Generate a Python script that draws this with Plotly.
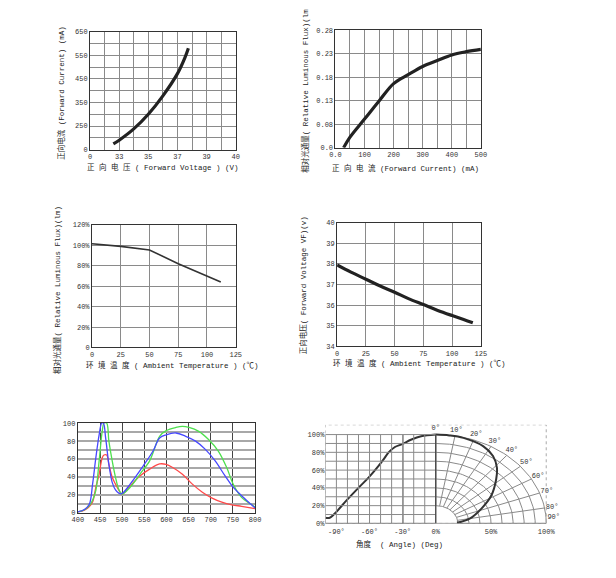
import numpy as np
import plotly.graph_objects as go

W, H = 616, 578
FONT = "Liberation Mono, Noto Sans CJK SC, monospace"
TICKC = "#333333"

# ---------------- Panel 1: forward voltage vs forward current ----------------
p1_voltage = [32.6, 33.0, 34.0, 35.0, 36.0, 37.0, 37.5, 37.75]
p1_current = [174, 190, 238, 300, 378, 472, 538, 580]
p1_xtickvals = list(range(31, 42))
p1_xticktext = ["0", "", "33", "", "35", "", "37", "", "39", "", "40"]
p1_ytickvals = list(range(150, 651, 50))
p1_yticktext = ["0", "", "250", "", "350", "", "450", "", "550", "", "650"]

# ---------------- Panel 2: forward current vs relative flux ----------------
p2_current = [28, 50, 100, 150, 200, 250, 300, 350, 400, 450, 500]
p2_flux = [0.03, 0.0525, 0.091, 0.1295, 0.1665, 0.1855, 0.203, 0.2155, 0.2275, 0.2345, 0.2395]
p2_xtickvals = list(range(0, 501, 50))
p2_xticktext = ["0.0", "", "100", "", "200", "", "300", "", "400", "", "500"]
p2_ytickvals = [0.03, 0.08, 0.13, 0.18, 0.23, 0.28]
p2_yticktext = ["0.0", "0.08", "0.13", "0.18", "0.23", "0.28"]

# ---------------- Panel 3: ambient temperature vs relative flux ----------------
p3_temp = [0, 25, 50, 75, 112]
p3_flux = [101.5, 99, 95.5, 82, 64]
p3_xtickvals = [0, 25, 50, 75, 100, 125]
p3_ytickvals = [0, 20, 40, 60, 80, 100, 120]
p3_yticktext = ["0", "20%", "40%", "60%", "80%", "100%", "120%"]

# ---------------- Panel 4: ambient temperature vs forward voltage ----------------
p4_temp = [0, 12, 25, 37, 50, 62, 75, 87, 100, 110, 118]
p4_vf = [37.95, 37.6, 37.26, 36.94, 36.63, 36.32, 36.03, 35.76, 35.5, 35.31, 35.15]
p4_xtickvals = [0, 25, 50, 75, 100, 125]
p4_ytickvals = [34, 35, 36, 37, 38, 39, 40]

# ---------------- Panel 5: spectrum ----------------
p5_blue_wl = [400, 414.8, 425.8, 433.2, 440.6, 448, 453.9, 457.6, 462.7, 470, 477.5, 484.9, 492.3,
              497.4, 503.3, 518, 547.6, 569.7, 584.5, 599.3, 621.4, 643.5, 665.7, 687.8, 710,
              732, 750.5, 769, 791, 800]
p5_blue = [1, 3.7, 9.5, 32, 61.5, 87, 100, 100, 83.5, 54, 34, 25.6, 22,
           21.2, 23, 32, 52.4, 68.9, 83.5, 87, 89, 85.3, 79.9, 70.7, 57.9,
           41.4, 28.6, 19.4, 9.5, 5.5]
p5_green_wl = [400, 414.8, 425.8, 433.2, 440.6, 448, 455, 459, 465, 470, 477.5, 485, 492,
               499.6, 518, 540, 562, 569.7, 584.5, 599.3, 621.4, 636, 650.9, 673, 695,
               717, 736, 750.5, 769, 791, 800]
p5_green = [1, 3.5, 8, 14, 25, 58, 91, 100, 100, 80, 58, 39.6, 26.7,
            21, 28.6, 43, 58, 67, 85.3, 91.6, 95.2, 96.3, 95.2, 90.8, 81.7,
            68.9, 50.5, 32.2, 17.6, 9.5, 6.6]
p5_red_wl = [400, 414.8, 425.8, 433.2, 440.6, 448, 455, 459, 465, 470, 477.5, 485, 492,
             499.6, 518, 540, 562, 584.5, 599.3, 614, 636, 658.5, 681, 703, 725,
             747.6, 769.7, 800]
p5_red = [1, 3, 7, 12, 28.6, 43, 61.5, 64.5, 64.5, 54, 39.6, 32, 25.6,
          21, 30, 41, 48.7, 54.5, 54, 50.5, 43, 32, 23, 16.5, 12,
          9, 7.3, 4.8]
p5_xtickvals = list(range(400, 801, 50))
p5_ytickvals = list(range(0, 101, 10))
p5_yticktext = ["0", "", "20", "", "40", "", "60", "", "80", "", "100"]

# ---------------- Panel 6: radiation pattern ----------------
p6_left_angle = [-100, -96, -93, -90, -80, -69.5, -60.7, -51.8, -47.3, -42.9, -37, -31, -22, -13.3, 0]
p6_left_int = [6.3, 6.3, 9.3, 13, 27, 40.7, 51.9, 64.8, 72, 79.6, 86, 89, 94.4, 98, 100]
p6_polar_angle = [0, 7, 14.6, 26.2, 34.3, 41.3, 47.6, 58, 68, 79.8, 88]
p6_polar_r = [100, 99.8, 99.5, 97, 91.9, 83.8, 74.1, 59.3, 44.6, 31.6, 19.2]
p6_rings = list(range(20, 101, 10))
p6_spokes = list(range(0, 91, 10))
p6_angle_labels = ["0°", "10°", "20°", "30°", "40°", "50°", "60°", "70°", "80°", "90°"]
p6_xtickvals = [-90, -60, -30, 0, 50, 100]
p6_xticktext = ["-90°", "-60°", "-30°", "0%", "50%", "100%"]
p6_ytickvals = [0, 20, 40, 60, 80, 100]
p6_yticktext = ["0%", "20%", "40%", "60%", "80%", "100%"]


def dom_x(a, b):
    return [a / W, b / W]


def dom_y(top, bottom):
    return [1 - bottom / H, 1 - top / H]


fig = go.Figure()

# curves
fig.add_trace(go.Scatter(x=p1_voltage, y=p1_current, mode="lines", line=dict(color="#222", width=3.2, shape="spline"),
                         xaxis="x", yaxis="y"))
fig.add_trace(go.Scatter(x=p2_current, y=p2_flux, mode="lines", line=dict(color="#222", width=3.2, shape="spline"),
                         xaxis="x2", yaxis="y2"))
fig.add_trace(go.Scatter(x=p3_temp, y=p3_flux, mode="lines", line=dict(color="#333", width=1.6),
                         xaxis="x3", yaxis="y3"))
fig.add_trace(go.Scatter(x=p4_temp, y=p4_vf, mode="lines", line=dict(color="#222", width=3.2, shape="spline"),
                         xaxis="x4", yaxis="y4"))
fig.add_trace(go.Scatter(x=p5_red_wl, y=p5_red, mode="lines", line=dict(color="#ff4a4a", width=1.3, shape="spline"),
                         xaxis="x5", yaxis="y5"))
fig.add_trace(go.Scatter(x=p5_green_wl, y=p5_green, mode="lines", line=dict(color="#4ee04e", width=1.3, shape="spline"),
                         xaxis="x5", yaxis="y5"))
fig.add_trace(go.Scatter(x=p5_blue_wl, y=p5_blue, mode="lines", line=dict(color="#4848ff", width=1.3, shape="spline"),
                         xaxis="x5", yaxis="y5"))

# panel 6 polar grid (computed from rings / spokes)
gx, gy = [], []
th = np.radians(np.linspace(0, 90, 46))
for r in p6_rings:
    gx += list(r * np.sin(th)) + [None]
    gy += list(r * np.cos(th)) + [None]
for a in p6_spokes:
    t = np.radians(a)
    gx += [p6_rings[0] * np.sin(t), p6_rings[-1] * np.sin(t), None]
    gy += [p6_rings[0] * np.cos(t), p6_rings[-1] * np.cos(t), None]
fig.add_trace(go.Scatter(x=gx, y=gy, mode="lines", line=dict(color="#8a8a8a", width=1),
                         xaxis="x6", yaxis="y6", hoverinfo="skip", cliponaxis=False))

# panel 6 curves
fig.add_trace(go.Scatter(x=p6_left_angle, y=p6_left_int, mode="lines", line=dict(color="#333", width=2, shape="spline"),
                         xaxis="x6", yaxis="y6"))
pa = np.radians(p6_polar_angle)
pr = np.array(p6_polar_r)
fig.add_trace(go.Scatter(x=pr * np.sin(pa), y=pr * np.cos(pa), mode="lines",
                         line=dict(color="#333", width=2, shape="spline"),
                         xaxis="x6", yaxis="y6", cliponaxis=False))
# angle labels just outside the outer ring (last one nudged up to clear the 100% tick label)
la = np.radians(np.minimum(np.array(p6_spokes, dtype=float), 86.5))
fig.add_trace(go.Scatter(x=107 * np.sin(la), y=107 * np.cos(la), mode="text", text=p6_angle_labels,
                         textfont=dict(family=FONT, size=7, color=TICKC), xaxis="x6", yaxis="y6",
                         cliponaxis=False, textposition="middle center"))


def ax(domain, rng, tickvals, ticktext=None, grid=True, line=True, gridcolor="#8a8a8a", gridwidth=1):
    d = dict(domain=domain, range=rng, tickmode="array", tickvals=tickvals,
             showgrid=grid, gridcolor=gridcolor, gridwidth=gridwidth,
             showline=line, mirror=line, linecolor="#333", linewidth=1,
             zeroline=False, ticks="", fixedrange=True,
             tickfont=dict(family=FONT, size=7, color=TICKC))
    if ticktext is not None:
        d["ticktext"] = ticktext
    return d


P6_X0, P6_PX = 325.7, 1.1263   # left edge px, px per unit
P6_XMAX = 112
layout = dict(
    width=W, height=H, margin=dict(l=0, r=0, t=0, b=0),
    paper_bgcolor="white", plot_bgcolor="white", showlegend=False,
    font=dict(family=FONT, size=7, color=TICKC),
    xaxis=ax(dom_x(85.7, 234.3), [31, 41], p1_xtickvals, p1_xticktext),
    yaxis=ax(dom_y(28, 147.7), [150, 650], p1_ytickvals, p1_yticktext),
    xaxis2=ax(dom_x(336, 484.3), [0, 500], p2_xtickvals, p2_xticktext),
    yaxis2=ax(dom_y(26.7, 145.7), [0.03, 0.28], p2_ytickvals, p2_yticktext),
    xaxis3=ax(dom_x(87.7, 234.3), [0, 125], p3_xtickvals),
    yaxis3=ax(dom_y(224, 348.3), [0, 120], p3_ytickvals, p3_yticktext),
    xaxis4=ax(dom_x(337.7, 484.3), [0, 125], p4_xtickvals),
    yaxis4=ax(dom_y(221.7, 347.3), [34, 40], p4_ytickvals),
    xaxis5=ax(dom_x(73.3, 254), [400, 800], p5_xtickvals, gridcolor="#444"),
    yaxis5=ax(dom_y(425, 516), [0, 100], p5_ytickvals, p5_yticktext, gridcolor="#a8a8a8", gridwidth=1.5),
    xaxis6=ax(dom_x(P6_X0, P6_X0 + (P6_XMAX + 100) * P6_PX), [-100, P6_XMAX], p6_xtickvals, p6_xticktext,
              grid=False, line=False),
    yaxis6=ax(dom_y(426.7, 526.7), [0, 111], p6_ytickvals, p6_yticktext, grid=False, line=False),
)
layout["xaxis6"]["ticklabelstandoff"] = 3
layout["xaxis"]["anchor"] = "y"
layout["yaxis"]["anchor"] = "x"
for i in range(2, 7):
    layout[f"xaxis{i}"]["anchor"] = f"y{i}"
    layout[f"yaxis{i}"]["anchor"] = f"x{i}"
fig.update_layout(**layout)

# panel 6 cartesian grid + frame (shapes)
shapes = []
for yv in range(0, 101, 10):
    shapes.append(dict(type="line", xref="x6", yref="y6", x0=-100, x1=0, y0=yv, y1=yv,
                       line=dict(color="#8a8a8a", width=1)))
for xv in list(range(-100, 1, 10)) + [-29.5]:
    shapes.append(dict(type="line", xref="x6", yref="y6", x0=xv, x1=xv, y0=0, y1=100,
                       line=dict(color="#8a8a8a", width=1)))
shapes.append(dict(type="line", xref="x6", yref="y6", x0=0, x1=0, y0=0, y1=100,
                   line=dict(color="#333", width=1)))
shapes.append(dict(type="line", xref="x6", yref="y6", x0=-100, x1=100, y0=0, y1=0,
                   line=dict(color="#555", width=1)))
shapes.append(dict(type="rect", xref="x6", yref="y6", x0=-100, x1=100, y0=0, y1=111,
                   line=dict(color="#aaa", width=1, dash="dot")))
fig.update_layout(shapes=shapes)


def txt(x, y, s, angle=0, anchor="left", size=7.5):
    fig.add_annotation(x=x / W, y=1 - y / H, xref="paper", yref="paper", text=s, showarrow=False,
                       textangle=angle, xanchor=anchor, yanchor="middle",
                       font=dict(family=FONT, size=size, color="#222"))


txt(160, 165, "正 向 电 压 ( Forward Voltage ) (V)", anchor="center")
txt(56, 90, "正向电流 (Forward Current) (mA)", angle=-90, anchor="center")
txt(407, 166, "正 向 电 流 (Forward Current) (mA)", anchor="center")
txt(305, 88, "相对光通量( Relative Luminous Flux)(lm", angle=-90, anchor="center")
txt(80, 366.5, "环 境 温 度 ( Ambient Temperature ) (℃)")
txt(52, 290, "相对光通量( Relative Luminous Flux)(lm)", angle=-90, anchor="center")
txt(331, 364.5, "环 境 温 度 ( Ambient Temperature ) (℃)")
txt(303, 285, "正向电压( Forward Voltage VF)(v)", angle=-90, anchor="center")
txt(401, 547.5, "角度  ( Angle) (Deg)", anchor="center")

fig.write_html("out.html", config={"displayModeBar": False},
               post_script="document.body.style.margin='0px';")
